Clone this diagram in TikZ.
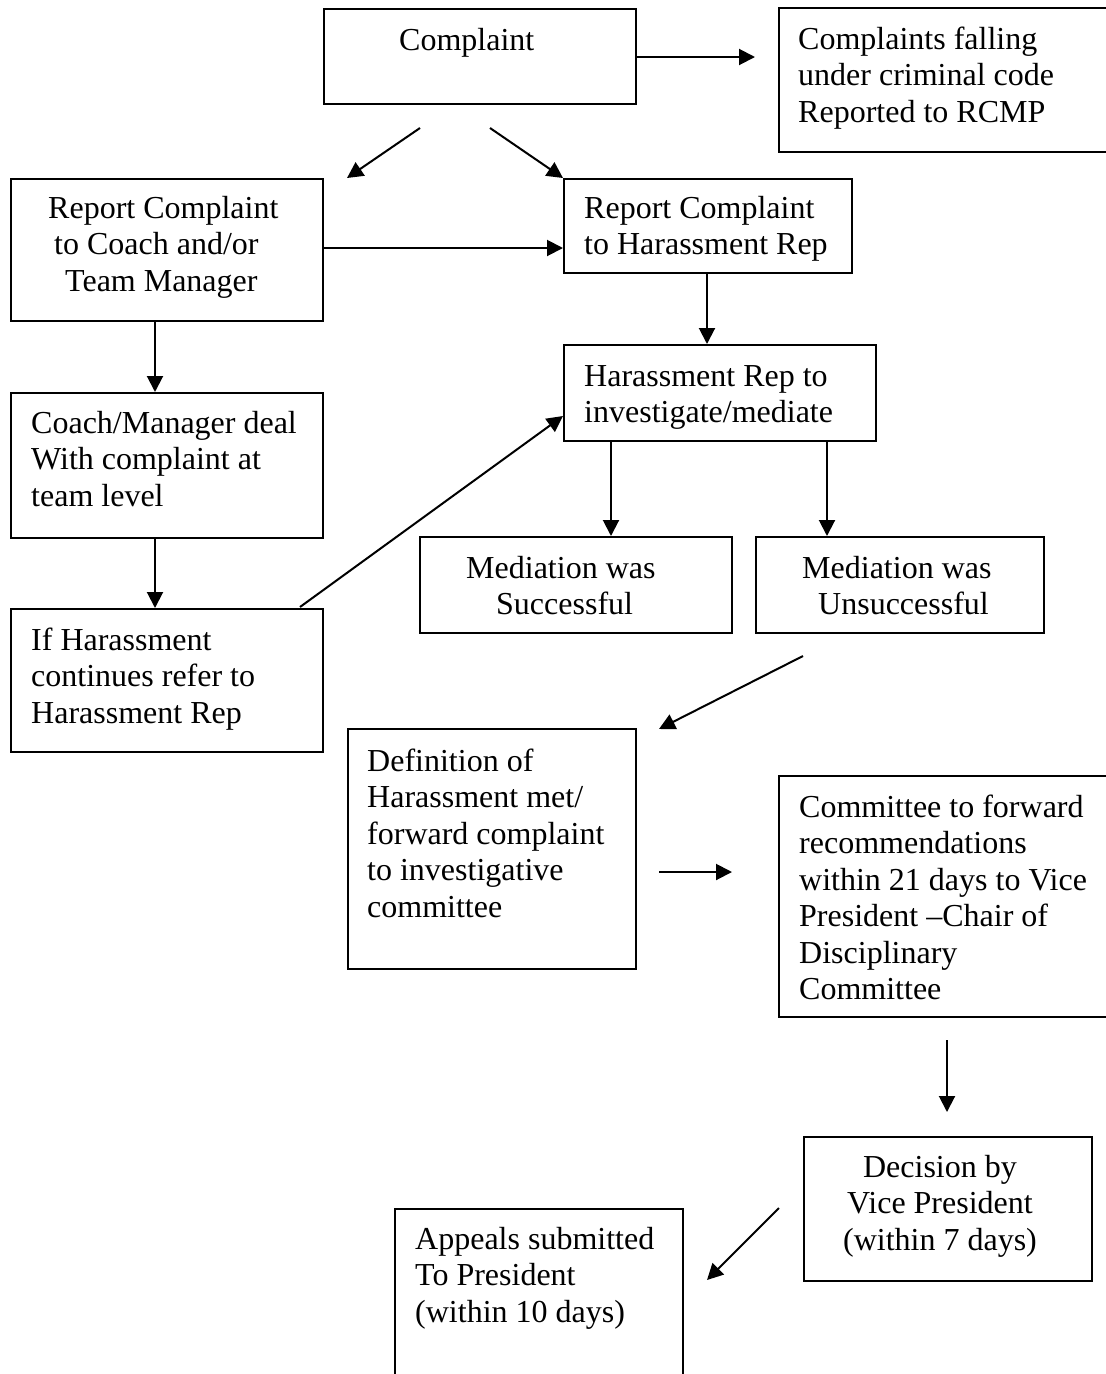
\documentclass[tikz,border=0pt]{standalone}
\usepackage{fontspec}
\setmainfont{Liberation Serif}
\usetikzlibrary{arrows.meta}
\begin{document}
\begin{tikzpicture}[x=1pt,y=-1pt,
 box/.style={draw,line width=2pt,anchor=north west,inner sep=0pt},
 openbox/.style={anchor=north west,inner sep=0pt},
 side/.style={line width=2pt},
 txt/.style={anchor=base west,inner sep=0pt,font=\fontsize{32pt}{36.5pt}\selectfont},
 ctxt/.style={anchor=base,inner sep=0pt,font=\fontsize{32pt}{36.5pt}\selectfont},
 arr/.style={line width=2pt,-{Triangle[length=16pt,width=16pt]}}]
\useasboundingbox (0,0) rectangle (1106,1374);
% boxes
\node[box,minimum width=312pt,minimum height=95pt] (complaint) at (323,8) {};
\node[openbox,minimum width=327pt,minimum height=144pt] (criminal) at (779,8) {};
\draw[side] (criminal.north east) -- (criminal.north west) -- (criminal.south west) -- (criminal.south east);
\node[box,minimum width=312pt,minimum height=142pt] (coach) at (10,178) {};
\node[box,minimum width=288pt,minimum height=94pt] (rep) at (563,178) {};
\node[box,minimum width=312pt,minimum height=96pt] (invest) at (563,344) {};
\node[box,minimum width=312pt,minimum height=145pt] (deal) at (10,392) {};
\node[box,minimum width=312pt,minimum height=143pt] (cont) at (10,608) {};
\node[box,minimum width=312pt,minimum height=96pt] (succ) at (419,536) {};
\node[box,minimum width=288pt,minimum height=96pt] (unsucc) at (755,536) {};
\node[box,minimum width=288pt,minimum height=240pt] (defn) at (347,728) {};
\node[openbox,minimum width=327pt,minimum height=241pt] (cttee) at (779,776) {};
\draw[side] (cttee.north east) -- (cttee.north west) -- (cttee.south west) -- (cttee.south east);
\node[box,minimum width=288pt,minimum height=144pt] (decision) at (803,1136) {};
\node[openbox,minimum width=288pt,minimum height=165pt] (appeals) at (395,1209) {};
\draw[side] (appeals.south west) -- (appeals.north west) -- (appeals.north east) -- (appeals.south east);
% texts
\node[txt] (tcomplaint) at (399,50) {Complaint};
\node[txt] (tcriminal) at (798,49) {\begin{tabular}[t]{@{}l@{}}Complaints falling\\under criminal code\\Reported to RCMP\end{tabular}};
\node[txt] (tcoach) at (48,218) {\begin{tabular}[t]{@{}l@{}}Report Complaint\\\hspace*{6pt}to Coach and/or\\\hspace*{17pt}Team Manager\end{tabular}};
\node[txt] (trep) at (584,218) {\begin{tabular}[t]{@{}l@{}}Report Complaint\\to Harassment Rep\end{tabular}};
\node[txt] (tinvest) at (584,386) {\begin{tabular}[t]{@{}l@{}}Harassment Rep to\\investigate/mediate\end{tabular}};
\node[txt] (tdeal) at (31,433) {\begin{tabular}[t]{@{}l@{}}Coach/Manager deal\\With complaint at\\team level\end{tabular}};
\node[txt] (tcont) at (31,650) {\begin{tabular}[t]{@{}l@{}}If Harassment\\continues refer to\\Harassment Rep\end{tabular}};
\node[txt] (tsucc) at (466,578) {\begin{tabular}[t]{@{}l@{}}Mediation was\\\hspace*{30pt}Successful\end{tabular}};
\node[txt] (tunsucc) at (802,578) {\begin{tabular}[t]{@{}l@{}}Mediation was\\\hspace*{16pt}Unsuccessful\end{tabular}};
\node[txt] (tdefn) at (367,771) {\begin{tabular}[t]{@{}l@{}}Definition of\\Harassment met/\\forward complaint\\to investigative\\committee\end{tabular}};
\node[txt] (tcttee) at (799,817) {\begin{tabular}[t]{@{}l@{}}Committee to forward\\recommendations\\within 21 days to Vice\\President --Chair of\\Disciplinary\\Committee\end{tabular}};
\node[ctxt] (tdecision) at (940,1177) {\begin{tabular}[t]{@{}c@{}}Decision by\\Vice President\\(within 7 days)\end{tabular}};
\node[txt] (tappeals) at (415,1249) {\begin{tabular}[t]{@{}l@{}}Appeals submitted\\To President\\(within 10 days)\end{tabular}};
% arrow endpoints
\coordinate (a1) at (635,57);   \coordinate (a1e) at (755,57);
\coordinate (a2) at (420,128);  \coordinate (a2e) at (347,178);
\coordinate (a3) at (490,128);  \coordinate (a3e) at (563,178);
\coordinate (a4) at (322,248);  \coordinate (a4e) at (563,248);
\coordinate (a5) at (155,320);  \coordinate (a5e) at (155,392);
\coordinate (a6) at (707,272);  \coordinate (a6e) at (707,344);
\coordinate (a7) at (155,537);  \coordinate (a7e) at (155,608);
\coordinate (a8) at (300,607);  \coordinate (a8e) at (563,416);
\coordinate (a9) at (611,440);  \coordinate (a9e) at (611,536);
\coordinate (a10) at (827,440); \coordinate (a10e) at (827,536);
\coordinate (a11) at (803,656); \coordinate (a11e) at (659,729);
\coordinate (a12) at (659,872); \coordinate (a12e) at (732,872);
\coordinate (a13) at (947,1040);\coordinate (a13e) at (947,1112);
\coordinate (a14) at (779,1208);\coordinate (a14e) at (707,1280);
\foreach \s/\e in {a1/a1e,a2/a2e,a3/a3e,a4/a4e,a5/a5e,a6/a6e,a7/a7e,a8/a8e,a9/a9e,a10/a10e,a11/a11e,a12/a12e,a13/a13e,a14/a14e}
  \draw[arr] (\s) -- (\e);
\end{tikzpicture}
\end{document}
